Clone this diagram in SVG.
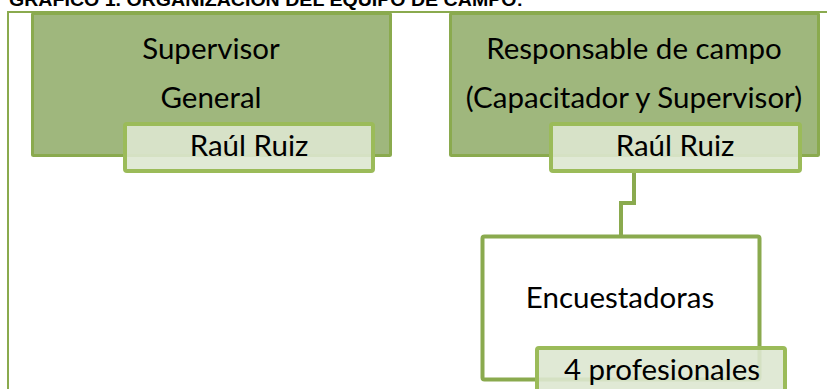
<svg xmlns="http://www.w3.org/2000/svg" width="827" height="389" viewBox="0 0 827 389">
<style>
.title{font-family:"Liberation Sans",Arial,sans-serif;font-weight:bold;font-size:19px;fill:#000}
.t{font-family:Lato,"Open Sans",sans-serif;font-size:29.5px;fill:#000;text-anchor:middle}
.main{fill:#9fb77d;stroke:#8aaa4e;stroke-width:3}
.sub{fill:#dde7d0;fill-opacity:.9;stroke:#9bbb59;stroke-width:4}
.child{fill:#fff;stroke:#8aaa4e;stroke-width:4}
.conn{fill:none;stroke:#8aaa4e;stroke-width:4}
</style>
<rect width="827" height="389" fill="#fff"/>
<text class="title" x="9" y="6" textLength="514" lengthAdjust="spacingAndGlyphs">GRÁFICO 1. ORGANIZACIÓN DEL EQUIPO DE CAMPO:</text>
<path d="M8 389 V12 H827" fill="none" stroke="#8aaa4e" stroke-width="2"/>
<g id="supervisor-general">
<rect class="main" x="32.5" y="13.5" width="358" height="142" rx="1"/>
<text class="t" x="211" y="59">Supervisor</text>
<text class="t" x="211" y="108">General</text>
<rect class="sub" x="125" y="124" width="248" height="47" rx="2"/>
<text class="t" x="249" y="156">Raúl Ruiz</text>
</g>
<g id="responsable-campo">
<rect class="main" x="450.5" y="13.5" width="368" height="142" rx="1"/>
<text class="t" x="634" y="59">Responsable de campo</text>
<text class="t" x="634" y="108">(Capacitador y Supervisor)</text>
<rect class="sub" x="551" y="124" width="249" height="47" rx="2"/>
<text class="t" x="675" y="156">Raúl Ruiz</text>
</g>
<g id="connectors">
<path class="conn" d="M634 173 V203 H621 V236"/>
</g>
<g id="encuestadoras">
<rect class="child" x="482.5" y="236.5" width="277" height="143" rx="2"/>
<text class="t" x="620" y="308">Encuestadoras</text>
<rect class="sub" x="537" y="348" width="248" height="60" rx="2"/>
<text class="t" x="662" y="380">4 profesionales</text>
</g>
</svg>
